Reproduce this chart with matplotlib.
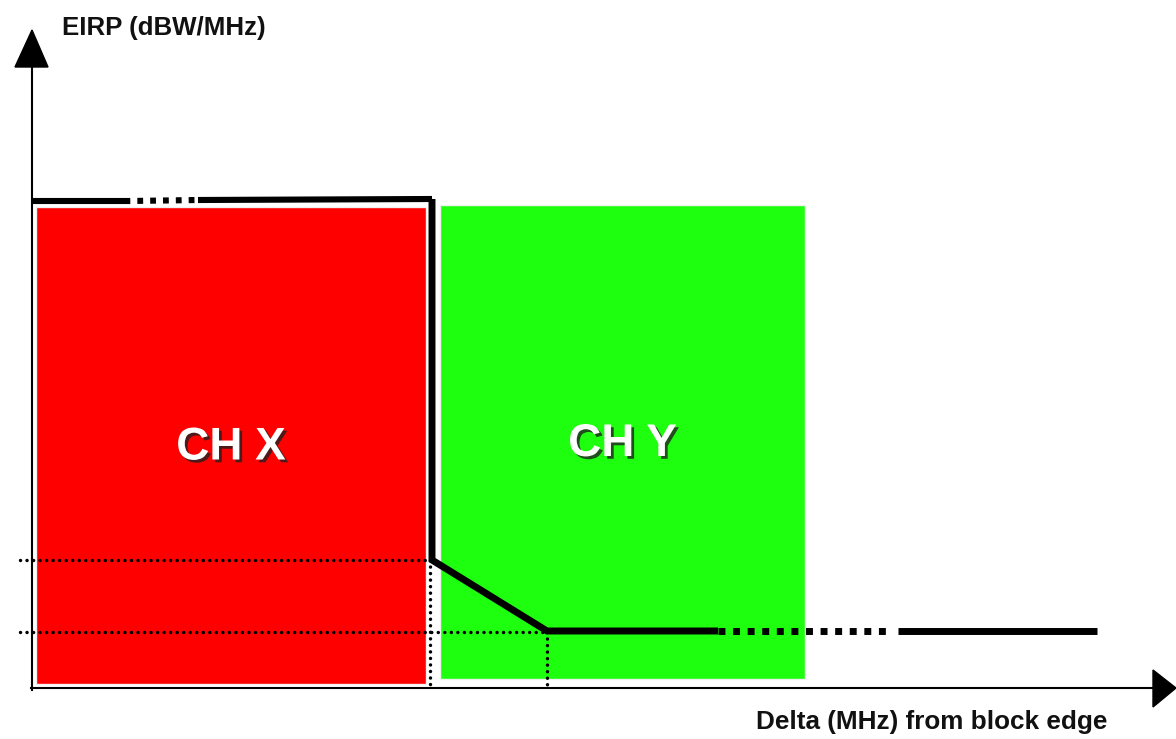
import matplotlib
matplotlib.use("Agg")
import matplotlib.pyplot as plt
from matplotlib.patches import Rectangle, Polygon
import matplotlib.patheffects as pe

# Schematic layout in image units (x to the right, y downward)
channel_labels = ["CH X", "CH Y"]
channel_x0 = [36, 440]
channel_x1 = [426, 805]
channel_top = [207, 205]
channel_bottom = [684, 679]
channel_colors = ["#ff0000", "#1eff10"]

# EIRP mask (upper level, step, slope, lower level)
mask_top_x = [32, 130, 198, 432]
mask_top_y = [201, 201, 200, 199]
mask_drop_x = [432, 432, 547, 718]
mask_drop_y = [199, 560, 631, 631]
mask_tail_x = [718, 890, 898, 1097]
mask_tail_y = [631, 631, 631, 631]

level_high = 560
level_low = 632
edge_x = 430
knee_x = 547

fig = plt.figure(figsize=(11.76, 7.39), dpi=100)
ax = fig.add_axes([0, 0, 1, 1])
ax.set_xlim(0, 1176)
ax.set_ylim(739, 0)
ax.axis("off")

# channel blocks
for lab, x0, x1, t, b, c in zip(channel_labels, channel_x0, channel_x1, channel_top, channel_bottom, channel_colors):
    ax.add_patch(Rectangle((x0, t), x1 - x0, b - t, facecolor=c, edgecolor="#f0f0f0", lw=1, zorder=1))
    ax.text((x0 + x1) / 2, (t + b) / 2 + 2, lab, color="white", fontsize=33, fontweight="bold",
            family="Liberation Sans", ha="center", va="center", zorder=5,
            path_effects=[pe.withSimplePatchShadow(offset=(2, -2), shadow_rgbFace="#202020", alpha=0.8)])

# axes
ax.plot([32, 32], [690, 62], color="black", lw=1.5, zorder=4)
ax.add_patch(Polygon([[15, 67], [48, 67], [32, 30]], closed=True, color="black", zorder=4))
ax.plot([31, 1155], [688, 688], color="black", lw=1.5, zorder=4)
ax.add_patch(Polygon([[1153, 670], [1153, 707], [1176, 688]], closed=True, color="black", zorder=4))

# fine dotted reference lines
dot = dict(color="black", lw=2.5, linestyle=(0, (0.01, 1.87)), dash_capstyle="round", zorder=3)
ax.plot([20, edge_x], [level_high, level_high], **dot)
ax.plot([20, knee_x], [level_low, level_low], **dot)
ax.plot([edge_x, edge_x], [level_high, 686], **dot)
ax.plot([knee_x, knee_x], [level_low, 686], **dot)

# mask: solid parts
thick = dict(color="black", lw=4.4, solid_capstyle="butt", solid_joinstyle="miter", zorder=6)
ax.plot(mask_top_x[:2], mask_top_y[:2], **thick)
ax.plot(mask_top_x[2:], mask_top_y[2:], **thick)
ax.plot([mask_top_x[-1]] + mask_drop_x[1:], [mask_top_y[-1]] + mask_drop_y[1:], color="black", lw=5,
        solid_capstyle="butt", solid_joinstyle="miter", zorder=6)
ax.plot(mask_tail_x[2:], mask_tail_y[2:], color="black", lw=5, solid_capstyle="butt", zorder=6)
# mask: square-dotted parts
ax.plot(mask_top_x[1:3], mask_top_y[1:3], lw=4.4, color="black", linestyle=(0.9, (0.95, 1.15)),
        dash_capstyle="butt", zorder=6)
ax.plot(mask_tail_x[:2], mask_tail_y[:2], lw=5, color="black", linestyle=(0, (1.0, 1.1)),
        dash_capstyle="butt", zorder=6)

# labels
ax.text(62, 28, "EIRP (dBW/MHz)", fontsize=18.6, fontweight="bold", family="Liberation Sans",
        ha="left", va="center", color="#111111")
ax.text(1107, 722, "Delta (MHz) from block edge", fontsize=18.8, fontweight="bold", family="Liberation Sans",
        ha="right", va="center", color="#111111")

fig.savefig("out.png", dpi=100, facecolor="white")
